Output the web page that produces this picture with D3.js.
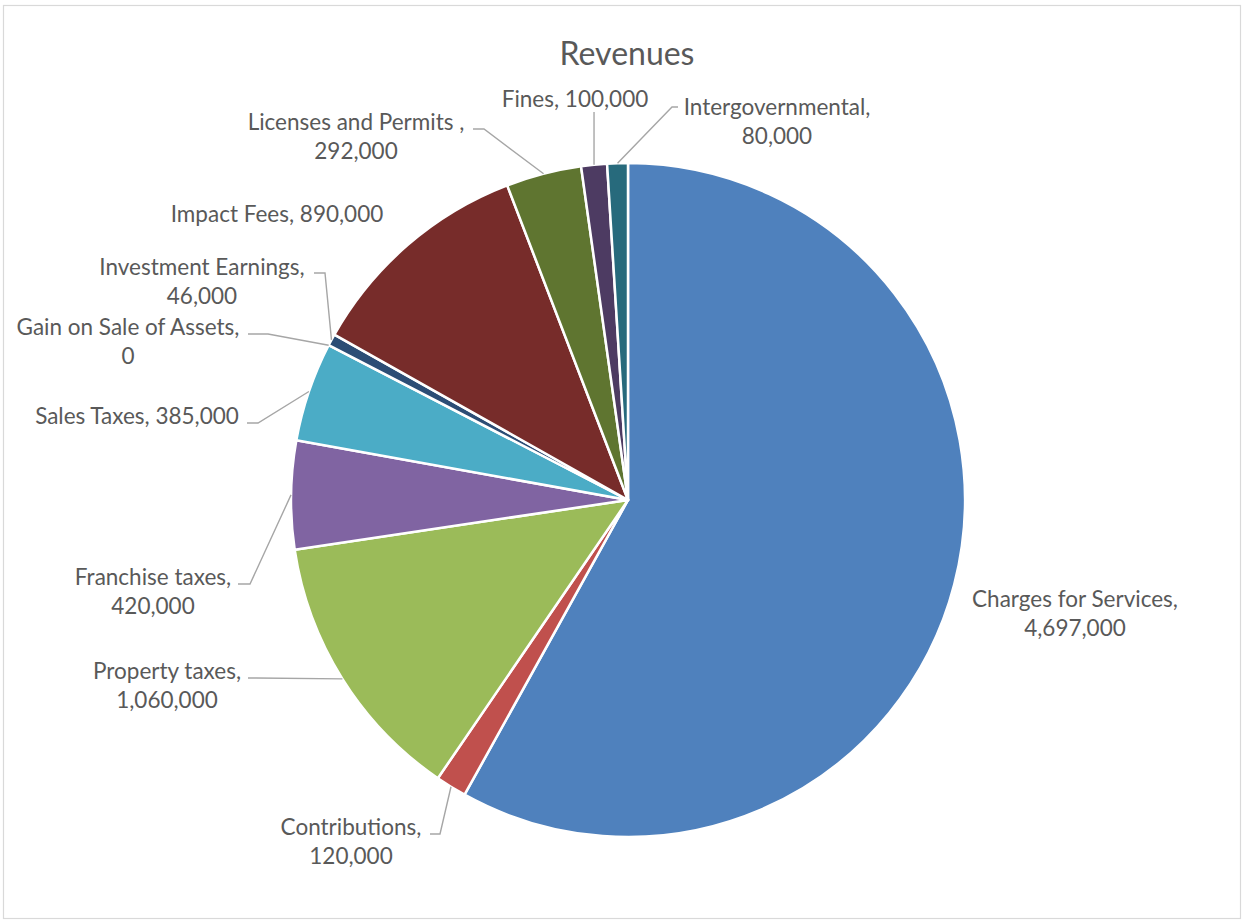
<!DOCTYPE html>
<html>
<head>
<meta charset="utf-8">
<script src="https://cdn.jsdelivr.net/npm/d3@7"></script>
<style>
  html, body { margin: 0; padding: 0; background: #fff; }
  svg { display: block; }
  text { font-family: Lato, "Open Sans", sans-serif; fill: #595959; }
</style>
</head>
<body>
<svg id="chart" width="1244" height="922"></svg>
<script>
// ---- data ----
const categories = [
  "Charges for Services", "Contributions", "Property taxes", "Franchise taxes",
  "Sales Taxes", "Gain on Sale of Assets", "Investment Earnings", "Impact Fees",
  "Licenses and Permits ", "Fines", "Intergovernmental"
];
const values = [4697000, 120000, 1060000, 420000, 385000, 0, 46000, 890000, 292000, 100000, 80000];
const colors = ["#4F81BD", "#C0504D", "#9BBB59", "#8064A2", "#4BACC6", "#F79646",
                "#2C4D75", "#772C2A", "#5F7530", "#4D3B62", "#276A7C"];
const title = "Revenues";

// ---- label text split into lines ----
const labelLines = [
  ["Charges for Services,", "4,697,000"],
  ["Contributions,", "120,000"],
  ["Property taxes,", "1,060,000"],
  ["Franchise taxes,", "420,000"],
  ["Sales Taxes, 385,000"],
  ["Gain on Sale of Assets,", "0"],
  ["Investment Earnings,", "46,000"],
  ["Impact Fees, 890,000"],
  ["Licenses and Permits ,", "292,000"],
  ["Fines, 100,000"],
  ["Intergovernmental,", "80,000"]
];
// ---- label layout (block centre x, first baseline y, leader) ----
const labelPos = [
  {x: 1075, y: 607},
  {x: 351, y: 835, lead: {x0: 430, x1: 440, y: 834}},
  {x: 167, y: 679, lead: {x0: 248, x1: 256, y: 678}},
  {x: 153, y: 585, lead: {x0: 238, x1: 250, y: 584}},
  {x: 137, y: 424, lead: {x0: 247, x1: 258, y: 423}},
  {x: 128, y: 335, lead: {x0: 248, x1: 268, y: 334}},
  {x: 202, y: 275, lead: {x0: 314, x1: 325, y: 273}},
  {x: 277, y: 222},
  {x: 356, y: 130, lead: {x0: 473, x1: 484, y: 129}},
  {x: 575, y: 107, lead: {vertical: true, y: 112}},
  {x: 777, y: 115, lead: {x0: 678, x1: 672, y: 107}}
];

const svg = d3.select("#chart");
const W = 1244, H = 922;

// chart border
svg.append("rect").attr("x", 3.5).attr("y", 5.5).attr("width", W - 7).attr("height", H - 9)
  .attr("fill", "#fff").attr("stroke", "#d9d9d9").attr("stroke-width", 1.2);

// title
svg.append("text").attr("x", 627).attr("y", 65).attr("text-anchor", "middle")
  .style("font-size", "32px").text(title);

const cx = 628, cy = 500, r = 337;
const data = categories.map((c, i) => ({name: c, value: values[i], color: colors[i], i}));
const pie = d3.pie().sort(null).value(d => d.value);
const arcs = pie(data);
const arc = d3.arc().innerRadius(0).outerRadius(r);
const edgeArc = d3.arc().innerRadius(r).outerRadius(r);

const g = svg.append("g").attr("transform", `translate(${cx},${cy})`);
g.selectAll("path.slice").data(arcs.filter(d => d.data.value > 0)).join("path")
  .attr("class", "slice")
  .attr("d", arc)
  .attr("fill", d => d.data.color)
  .attr("stroke", "#fff")
  .attr("stroke-width", 2.5)
  .attr("stroke-linejoin", "round");

// leader lines
const lg = svg.append("g");
arcs.forEach((d, i) => {
  const lp = labelPos[i];
  if (!lp.lead) return;
  const c = edgeArc.centroid(d);
  const sx = cx + c[0], sy = cy + c[1];
  let pts;
  if (lp.lead.vertical) {
    pts = [[sx, lp.lead.y], [sx, sy]];
  } else {
    pts = [[lp.lead.x0, lp.lead.y], [lp.lead.x1, lp.lead.y], [sx, sy]];
  }
  lg.append("path").attr("d", d3.line()(pts))
    .attr("fill", "none").attr("stroke", "#a6a6a6").attr("stroke-width", 1.4);
});

// labels
const tg = svg.append("g");
arcs.forEach((d, i) => {
  const lp = labelPos[i];
  const t = tg.append("text").attr("text-anchor", "middle").style("font-size", "22.5px");
  labelLines[i].forEach((line, k) => {
    t.append("tspan").attr("x", lp.x).attr("y", lp.y + k * 29).text(line);
  });
});
</script>
</body>
</html>
